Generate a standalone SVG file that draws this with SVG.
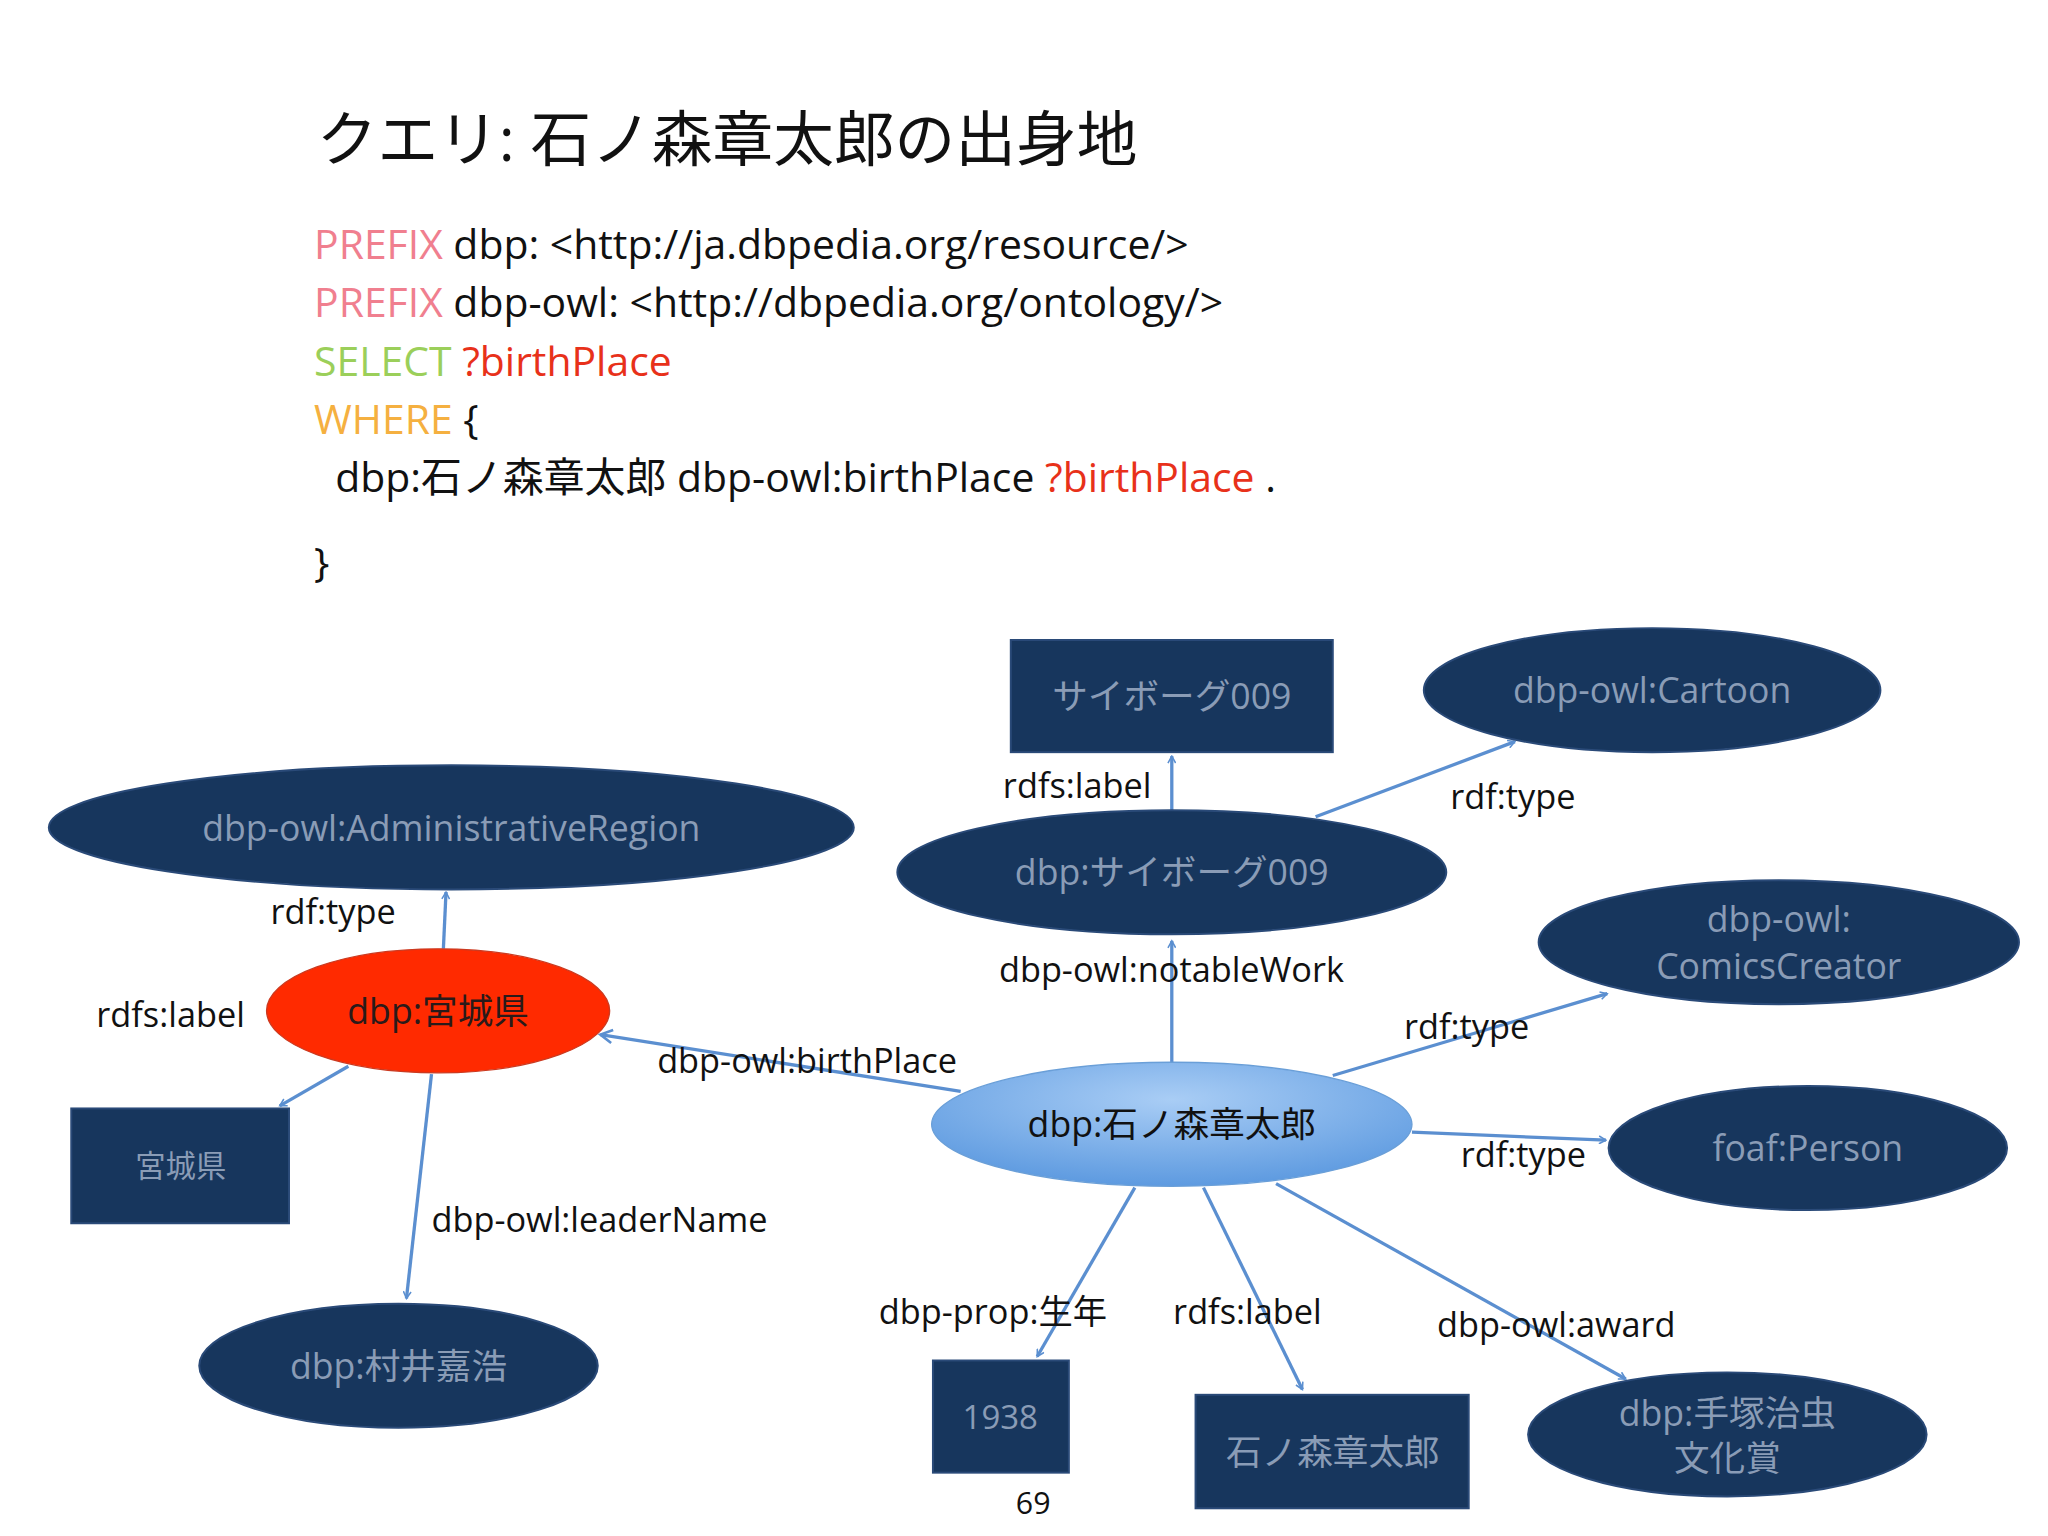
<svg xmlns="http://www.w3.org/2000/svg" width="2048" height="1536" viewBox="0 0 2048 1536">
<defs>
<style>
.t{font-family:"Open Sans","Noto Sans CJK JP",sans-serif;}
.code{font-size:31px;fill:#111}
.n{fill:#17365d;stroke:#2a4a78;stroke-width:1.5}
.nt{font-size:27px;fill:#8a9cb6;text-anchor:middle}
.lb{font-size:26px;fill:#111}
.e{stroke:#5b8fd0;stroke-width:2.5;fill:none;marker-end:url(#a)}
</style>
<marker id="a" viewBox="0 0 12 12" refX="10" refY="6" markerWidth="7" markerHeight="7" markerUnits="userSpaceOnUse" orient="auto"><path d="M1,1 L10,6 L1,11" fill="none" stroke="#5b8fd0" stroke-width="2"/></marker>
<marker id="a2" viewBox="0 0 12 12" refX="10" refY="6" markerWidth="12" markerHeight="12" markerUnits="userSpaceOnUse" orient="auto"><path d="M1,1 L10,6 L1,11" fill="none" stroke="#5b8fd0" stroke-width="2"/></marker>
<radialGradient id="g" cx="50%" cy="30%" r="70%"><stop offset="0" stop-color="#a9cdf5"/><stop offset="1" stop-color="#5d9ae0"/></radialGradient>
</defs>
<rect width="2048" height="1536" fill="#fff"/>
<g transform="scale(1.31959)">
<text class="t" x="240" y="122" font-size="46" fill="#111">クエリ: 石ノ森章太郎の出身地</text>
<g class="t code">
<text x="238" y="196"><tspan fill="#f07f8f">PREFIX</tspan> dbp: &lt;http://ja.dbpedia.org/resource/&gt;</text>
<text x="238" y="240"><tspan fill="#f07f8f">PREFIX</tspan> dbp-owl: &lt;http://dbpedia.org/ontology/&gt;</text>
<text x="238" y="285"><tspan fill="#9bcf5a">SELECT</tspan> <tspan fill="#e8311a">?birthPlace</tspan></text>
<text x="238" y="329"><tspan fill="#f5b040">WHERE</tspan> {</text>
<text x="254" y="373">dbp:石ノ森章太郎 dbp-owl:birthPlace <tspan fill="#e8311a">?birthPlace</tspan> .</text>
<text x="238" y="437">}</text>
</g>
<g id="edges">
<line class="e" x1="888" y1="805" x2="888" y2="713"/>
<line class="e" x1="888" y1="614" x2="888" y2="573"/>
<line class="e" x1="997" y1="619" x2="1148" y2="562"/>
<line class="e" x1="1010" y1="815" x2="1218" y2="753"/>
<line class="e" x1="1070" y1="858" x2="1217" y2="864"/>
<line class="e" x1="728" y1="827" x2="455" y2="784" style="marker-end:url(#a2)"/>
<line class="e" x1="336" y1="719" x2="338" y2="676"/>
<line class="e" x1="264" y1="808" x2="212" y2="838"/>
<line class="e" x1="327" y1="814" x2="308" y2="984"/>
<line class="e" x1="860" y1="900" x2="786" y2="1028"/>
<line class="e" x1="912" y1="900" x2="987" y2="1053"/>
<line class="e" x1="967" y1="897" x2="1232" y2="1045"/>
<g class="t lb">
<text x="757" y="744">dbp-owl:notableWork</text>
<text x="760" y="605">rdfs:label</text>
<text x="1099" y="613">rdf:type</text>
<text x="1064" y="787">rdf:type</text>
<text x="1107" y="884">rdf:type</text>
<text x="498" y="813">dbp-owl:birthPlace</text>
<text x="205" y="700">rdf:type</text>
<text x="73" y="778">rdfs:label</text>
<text x="327" y="934">dbp-owl:leaderName</text>
<text x="666" y="1003">dbp-prop:生年</text>
<text x="889" y="1003">rdfs:label</text>
<text x="1089" y="1013">dbp-owl:award</text>
</g>
</g>
<g id="n1"><rect class="n" x="766" y="485" width="244" height="85"/><text class="t nt" x="888" y="537">サイボーグ009</text></g>
<g id="n2"><ellipse class="n" cx="1252" cy="523" rx="173" ry="47"/><text class="t nt" x="1252" y="533">dbp-owl:Cartoon</text></g>
<g id="n3"><ellipse class="n" cx="342" cy="627" rx="305" ry="47"/><text class="t nt" x="342" y="637">dbp-owl:AdministrativeRegion</text></g>
<g id="n4"><ellipse class="n" cx="888" cy="661" rx="208" ry="47"/><text class="t nt" x="888" y="671">dbp:サイボーグ009</text></g>
<g id="n5"><ellipse class="n" cx="1348" cy="714" rx="182" ry="47"/><text class="t nt" x="1348" y="706">dbp-owl:</text><text class="t nt" x="1348" y="742">ComicsCreator</text></g>
<g id="n6"><ellipse cx="332" cy="766" rx="130" ry="47" fill="#ff2a00" stroke="#cc3a20"/><text class="t nt" x="332" y="776" fill="#222" style="fill:#2a1a1a">dbp:宮城県</text></g>
<g id="n7"><rect class="n" x="54" y="840" width="165" height="87"/><text class="t nt" x="137" y="892" font-size="23" style="font-size:23px">宮城県</text></g>
<g id="n8"><ellipse cx="888" cy="852" rx="182" ry="47" fill="url(#g)" stroke="#6a9fd8"/><text class="t nt" x="888" y="862" style="fill:#111">dbp:石ノ森章太郎</text></g>
<g id="n9"><ellipse class="n" cx="1370" cy="870" rx="151" ry="47"/><text class="t nt" x="1370" y="880">foaf:Person</text></g>
<g id="n10"><ellipse class="n" cx="302" cy="1035" rx="151" ry="47"/><text class="t nt" x="302" y="1045">dbp:村井嘉浩</text></g>
<g id="n11"><rect class="n" x="707" y="1031" width="103" height="85"/><text class="t nt" x="758" y="1083" style="font-size:25px">1938</text></g>
<g id="n12"><rect class="n" x="906" y="1057" width="207" height="86"/><text class="t nt" x="1010" y="1110">石ノ森章太郎</text></g>
<g id="n13"><ellipse class="n" cx="1309" cy="1087" rx="151" ry="47"/><text class="t nt" x="1309" y="1081">dbp:手塚治虫</text><text class="t nt" x="1309" y="1115">文化賞</text></g>
<text class="t" x="783" y="1147" font-size="23" text-anchor="middle" fill="#111">69</text>
</g>
</svg>
